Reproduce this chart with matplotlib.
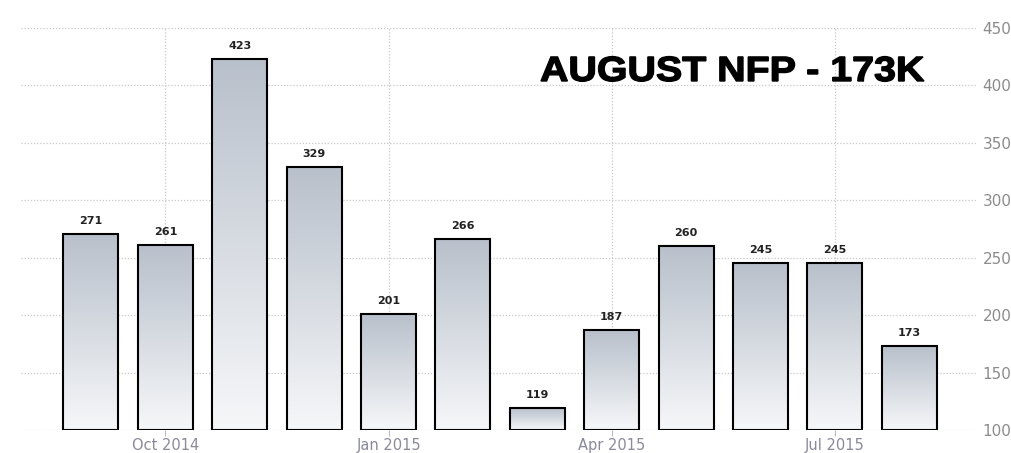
import numpy as np
import matplotlib
matplotlib.use("Agg")
import matplotlib.pyplot as plt
from matplotlib.textpath import TextPath
from matplotlib.patches import PathPatch
from matplotlib.font_manager import FontProperties
from matplotlib.transforms import Affine2D, IdentityTransform

months = ["Sep 2014", "Oct 2014", "Nov 2014", "Dec 2014", "Jan 2015", "Feb 2015",
          "Mar 2015", "Apr 2015", "May 2015", "Jun 2015", "Jul 2015", "Aug 2015"]
values = [271, 261, 423, 329, 201, 266, 119, 187, 260, 245, 245, 173]
tick_idx = [1, 4, 7, 10]
tick_labels = ["Oct 2014", "Jan 2015", "Apr 2015", "Jul 2015"]
y_ticks = [100, 150, 200, 250, 300, 350, 400, 450]
title = "AUGUST NFP - 173K"

fig = plt.figure(figsize=(10.12, 4.53), dpi=100)
ax = fig.add_axes([21 / 1012, 1 - 430 / 453, (977 - 21) / 1012, (430 - 28) / 453])

x = np.arange(len(values))
bars = ax.bar(x, [v - 100 for v in values], bottom=100, width=0.74,
              facecolor="none", edgecolor="black", linewidth=1.5, zorder=3)

top = np.array([0xb8, 0xc0, 0xcb]) / 255
bot = np.array([0xf6, 0xf7, 0xf9]) / 255
t = np.linspace(0, 1, 256)[:, None]
grad = (top[None, :] * (1 - t) + bot[None, :] * t)[:, None, :]
for b in bars:
    x0, y0 = b.get_x(), b.get_y()
    w, h = b.get_width(), b.get_height()
    im = ax.imshow(grad, extent=[x0, x0 + w, y0, y0 + h], aspect="auto",
                   origin="upper", zorder=2, interpolation="bilinear")
    im.set_clip_path(b)

for xi, v in zip(x, values):
    ax.text(xi, v + 7, str(v), ha="center", va="bottom", fontsize=8,
            fontweight="bold", color="#222222", zorder=4)

ax.set_xlim(-0.94, 11.91)
ax.set_ylim(100, 450)
ax.set_xticks(tick_idx)
ax.set_xticklabels(tick_labels)
ax.set_yticks(y_ticks)
ax.yaxis.tick_right()
ax.tick_params(axis="y", length=0, pad=4, labelsize=11, labelcolor="#8c8c8c")
ax.tick_params(axis="x", length=4, color="#bbbbbb", labelsize=10.5, labelcolor="#8a8a9a", pad=2)
for s in ax.spines.values():
    s.set_visible(False)
ax.grid(True, color="#c8c8c8", linestyle=(0, (1, 1.5)), linewidth=0.9, zorder=0)
ax.set_axisbelow(True)

# Heavy, wide title drawn as a scaled text path (in pixel coordinates)
tp = TextPath((0, 0), title, size=35,
              prop=FontProperties(family="Liberation Sans", weight="bold"))
ext = tp.get_extents()
target_w = 383.0
sx = target_w / ext.width
tr = Affine2D().translate(-ext.x0, 0).scale(sx, 1.0).translate(541, 453 - 81)
patch = PathPatch(tr.transform_path(tp), facecolor="black", edgecolor="black",
                  linewidth=1.0, transform=IdentityTransform(), zorder=5)
fig.patches.append(patch)

fig.savefig("out.png", dpi=100)
